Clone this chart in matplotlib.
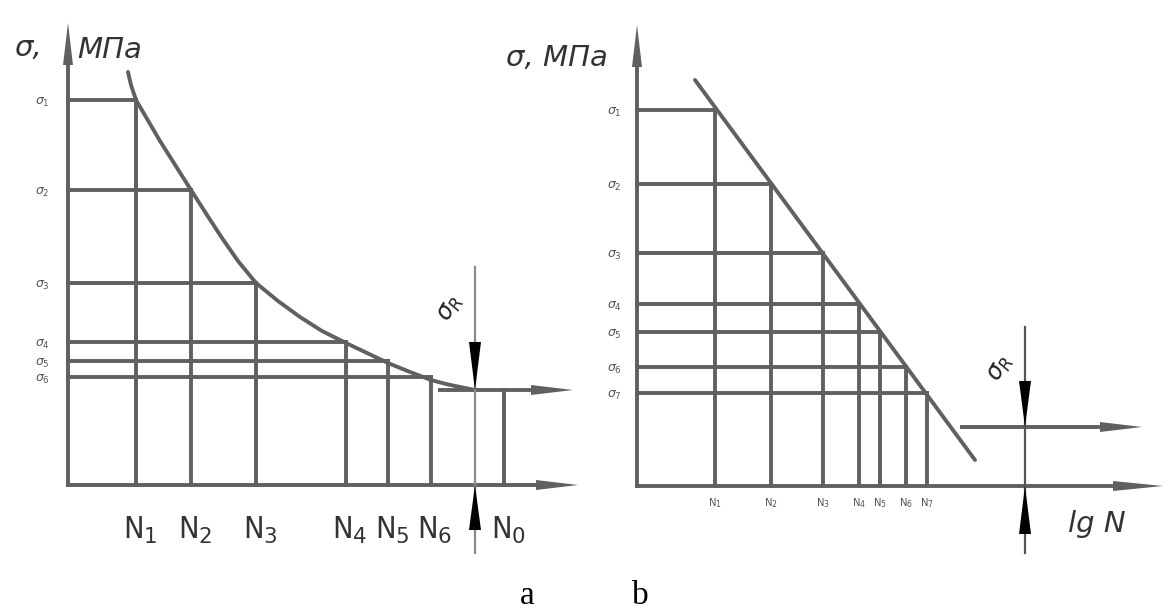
import numpy as np
import matplotlib.pyplot as plt

# panel a: fatigue curve in linear axes (positions, px)
a_n_labels = ['N$_1$', 'N$_2$', 'N$_3$', 'N$_4$', 'N$_5$', 'N$_6$']
a_n_x = [136, 191, 256, 346, 388, 431]
a_sig_labels = [r'$\sigma_1$', r'$\sigma_2$', r'$\sigma_3$', r'$\sigma_4$', r'$\sigma_5$', r'$\sigma_6$']
a_sig_y = [100, 190, 283, 342, 361, 377]
a_n0_x = 504
a_sigR_y = 390
a_sigR_x = 475
a_curve_x = [128, 131, 136, 160, 191, 207, 222, 238, 256, 278, 300, 322, 346, 367, 388, 410, 431, 446, 460, 475]
a_curve_y = [72, 85, 100, 141, 190, 215, 238, 261, 283, 301, 317, 331, 343, 353, 363, 372, 380, 384, 387, 390]

# panel b: same in lg N axes, straight line
b_n_labels = ['N$_1$', 'N$_2$', 'N$_3$', 'N$_4$', 'N$_5$', 'N$_6$', 'N$_7$']
b_n_x = [715, 771, 823, 859, 880, 906, 927]
b_sig_labels = [r'$\sigma_1$', r'$\sigma_2$', r'$\sigma_3$', r'$\sigma_4$', r'$\sigma_5$', r'$\sigma_6$', r'$\sigma_7$']
b_sig_y = [110, 184, 253, 304, 332, 367, 393]
b_line_x = [695, 975]
b_line_y = [80, 460]
b_sigR_y = 427
b_sigR_x = 1025

GREY = '#606060'
LW = 2.8


def head(ax, tip, direction, length, width, color):
    # filled triangular arrow head, direction is a unit vector (dx, dy)
    dx, dy = direction
    bx, by = tip[0] - dx * length, tip[1] - dy * length
    px, py = -dy * width / 2, dx * width / 2
    ax.fill([tip[0], bx + px, bx - px], [tip[1], by + py, by - py],
            color=color, lw=0, zorder=5)


def axis_arrow(ax, x0, y0, x1, y1, hl=42, hw=10):
    d = np.array([x1 - x0, y1 - y0], dtype=float)
    d /= np.hypot(*d)
    ax.plot([x0, x1 - d[0] * hl * 0.5], [y0, y1 - d[1] * hl * 0.5], color=GREY, lw=LW,
            solid_capstyle='butt')
    head(ax, (x1, y1), d, hl, hw, GREY)


fig = plt.figure(figsize=(11.65, 6.13), dpi=100)
ax = fig.add_axes([0, 0, 1, 1])
ax.set_xlim(0, 1165)
ax.set_ylim(613, 0)
ax.axis('off')

# ---------- panel a ----------
a_x0, a_y0 = 68, 485
axis_arrow(ax, a_x0, a_y0 + 2, a_x0, 23)
axis_arrow(ax, a_x0 - 2, a_y0, 578, a_y0)
for x, y in zip(a_n_x, a_sig_y):
    ax.plot([a_x0, x], [y, y], color=GREY, lw=LW)
    ax.plot([x, x], [y, a_y0], color=GREY, lw=LW)
ax.plot([a_n0_x, a_n0_x], [a_sigR_y, a_y0], color=GREY, lw=LW)
ax.plot(a_curve_x, a_curve_y, color=GREY, lw=LW, solid_capstyle='round', solid_joinstyle='round')
axis_arrow(ax, 438, a_sigR_y, 573, a_sigR_y)
ax.plot([a_sigR_x, a_sigR_x], [267, 553], color='#8a8a8a', lw=1.6)
head(ax, (a_sigR_x, a_sigR_y), (0, 1), 48, 12, 'black')
head(ax, (a_sigR_x, a_y0), (0, -1), 45, 12, 'black')
ax.text(450, 308, r'$\sigma_R$', rotation=60, fontsize=17, ha='center', va='center', color='#222222')

for lab, y in zip(a_sig_labels, a_sig_y):
    ax.text(42, y + 2, lab, fontsize=9, ha='center', va='center', color='#555555', style='italic')
for lab, x in zip(a_n_labels + ['N$_0$'], a_n_x + [a_n0_x]):
    ax.text(x + 4, 530, lab, fontsize=22, ha='center', va='center', color='#333333',
            fontstretch='condensed')
ax.text(28, 48, 'σ,', fontsize=21, style='italic', ha='center', va='center', color='#333333')
ax.text(110, 50, 'МПа', fontsize=21, style='italic', ha='center', va='center', color='#333333')

# ---------- panel b ----------
b_x0, b_y0 = 637, 486
axis_arrow(ax, b_x0, b_y0 + 2, b_x0, 25)
axis_arrow(ax, b_x0 - 2, b_y0, 1163, b_y0, hl=50)
for x, y in zip(b_n_x, b_sig_y):
    ax.plot([b_x0, x], [y, y], color=GREY, lw=LW)
    ax.plot([x, x], [y, b_y0], color=GREY, lw=LW)
ax.plot(b_line_x, b_line_y, color=GREY, lw=LW, solid_capstyle='round')
axis_arrow(ax, 960, b_sigR_y, 1142, b_sigR_y)
ax.plot([b_sigR_x, b_sigR_x], [327, 553], color='#555555', lw=1.6)
head(ax, (b_sigR_x, b_sigR_y), (0, 1), 46, 12, 'black')
head(ax, (b_sigR_x, b_y0), (0, -1), 48, 12, 'black')
ax.text(1000, 368, r'$\sigma_R$', rotation=60, fontsize=17, ha='center', va='center', color='#222222')

for lab, y in zip(b_sig_labels, b_sig_y):
    ax.text(614, y + 2, lab, fontsize=9, ha='center', va='center', color='#555555', style='italic')
for lab, x in zip(b_n_labels, b_n_x):
    ax.text(x, 503, lab, fontsize=8, ha='center', va='center', color='#555555',
            fontstretch='condensed')
ax.text(557, 58, 'σ, МПа', fontsize=21, style='italic', ha='center', va='center', color='#333333')
ax.text(1097, 524, 'lg N', fontsize=21, style='italic', ha='center', va='center', color='#333333')

# captions
ax.text(527, 596, 'a', fontsize=24, ha='center', va='center', family='Liberation Serif')
ax.text(640, 596, 'b', fontsize=24, ha='center', va='center', family='Liberation Serif')

fig.savefig('out.png', dpi=100)
